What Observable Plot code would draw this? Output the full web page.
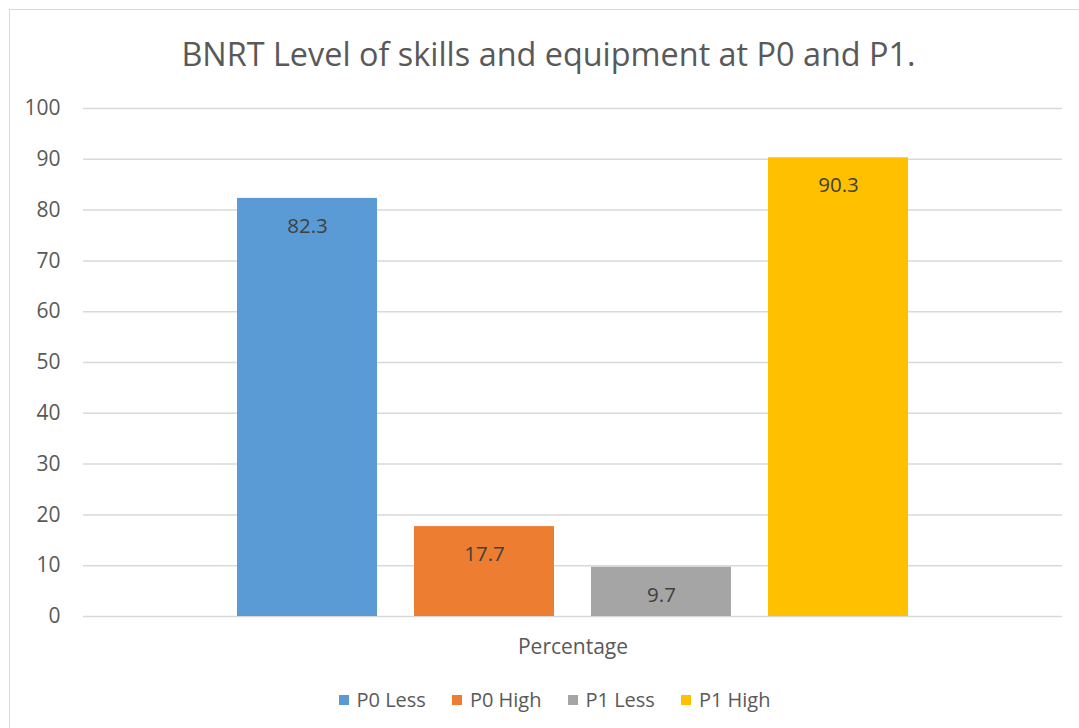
<!DOCTYPE html>
<html>
<head>
<meta charset="utf-8">
<script src="https://cdn.jsdelivr.net/npm/d3@7"></script>
<script src="https://cdn.jsdelivr.net/npm/@observablehq/plot@0.6"></script>
<style>
  html, body { margin: 0; padding: 0; background: #fff; }
  #page { position: relative; width: 1079px; height: 728px; overflow: hidden; font-family: "Open Sans", sans-serif; }
  #border { position: absolute; left: 9px; top: 9px; width: 1100px; height: 740px; border: 1.5px solid #d9d9d9; box-sizing: border-box; }
  #title { position: absolute; left: 10px; width: 1077px; top: 0; height: 90px; text-align: center; color: #595959; font-size: 32.4px; line-height: 1; }
  #title span { position: absolute; left: 0; right: 0; top: 37px; }
  #chart { position: absolute; left: 0; top: 90px; }
  #legend { position: absolute; left: 10px; width: 1089px; top: 686px; display: flex; justify-content: center; gap: 26px; color: #595959; font-size: 20px; line-height: 28px; }
  .item { display: flex; align-items: center; gap: 8px; }
  .sw { width: 10px; height: 10px; display: inline-block; }
</style>
</head>
<body>
<div id="page">
  <div id="border"></div>
  <div id="title"><span></span></div>
  <div id="chart"></div>
  <div id="legend"></div>
</div>
<script>
const titleText = "BNRT Level of skills and equipment at P0 and P1.";
const category = "Percentage";
const series = ["P0 Less", "P0 High", "P1 Less", "P1 High"];
const values = [82.3, 17.7, 9.7, 90.3];
const colors = ["#5B9BD5", "#ED7D31", "#A5A5A5", "#FFC000"];
const yTicks = [0, 10, 20, 30, 40, 50, 60, 70, 80, 90, 100];

const data = series.map((s, i) => ({group: category, series: s, value: values[i]}));

document.querySelector("#title span").textContent = titleText;

const chart = Plot.plot({
  width: 1079,
  height: 580,
  marginLeft: 83,
  marginRight: 17,
  marginTop: 18,
  marginBottom: 54,
  style: {fontFamily: "Open Sans, sans-serif", fontSize: "21px", color: "#595959", background: "transparent"},
  fx: {domain: [category], padding: 0, label: null, axis: "bottom", tickSize: 0, tickPadding: 23},
  x: {domain: series, paddingInner: 0.211, paddingOuter: 0.858, axis: null},
  y: {domain: [0, 100], axis: null},
  color: {domain: series, range: colors},
  marks: [
    Plot.ruleY(yTicks, {stroke: "#d9d9d9", strokeWidth: 1.5}),
    Plot.axisY({ticks: yTicks, tickSize: 0, tickPadding: 23, label: null, fontSize: 21, fill: "#595959"}),
    Plot.barY(data, {fx: "group", x: "series", y: "value", fill: "series"}),
    Plot.text(data, {fx: "group", x: "series", y: "value", text: d => d.value.toFixed(1), dy: 28, fill: "#404040", fontSize: 20.5})
  ]
});
document.getElementById("chart").appendChild(chart);

const legend = document.getElementById("legend");
series.forEach((s, i) => {
  const it = document.createElement("div");
  it.className = "item";
  const sw = document.createElement("span");
  sw.className = "sw";
  sw.style.background = colors[i];
  const t = document.createElement("span");
  t.textContent = s;
  it.appendChild(sw);
  it.appendChild(t);
  legend.appendChild(it);
});
</script>
</body>
</html>
